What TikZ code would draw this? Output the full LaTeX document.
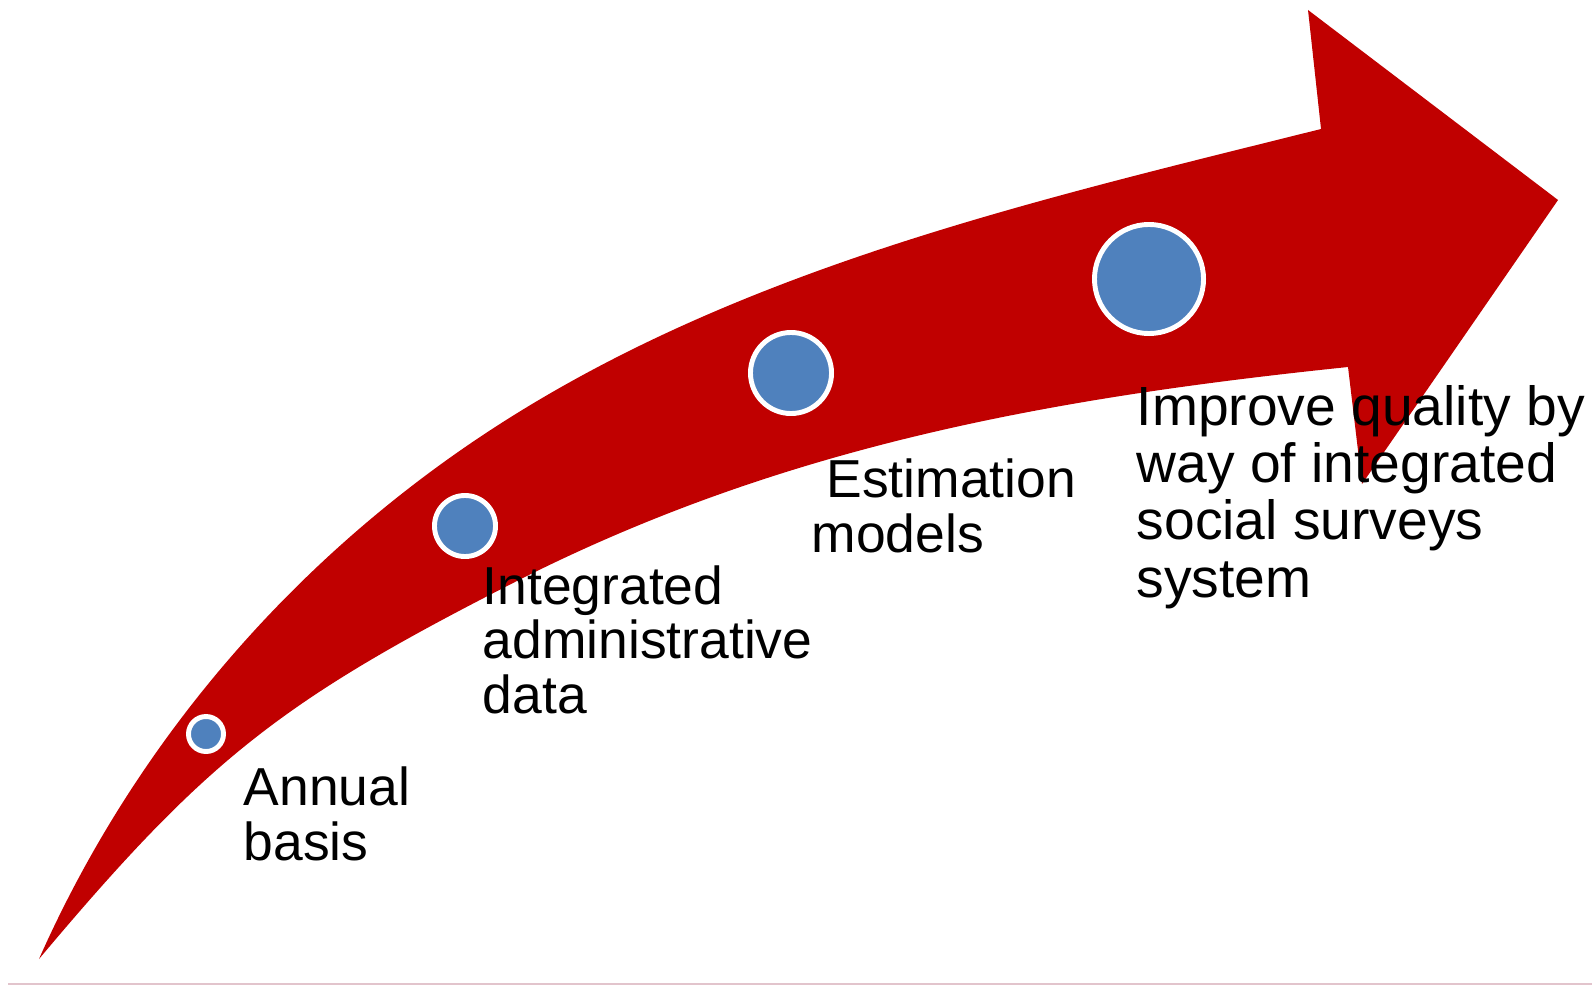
\documentclass[tikz,border=0pt]{standalone}
\usepackage{fontspec}
\setmainfont{Liberation Sans}
\definecolor{arrowred}{HTML}{C00000}
\definecolor{dotblue}{HTML}{4F81BD}
\definecolor{rulepink}{HTML}{E2C4CC}
\begin{document}
\begin{tikzpicture}[x=0.01cm,y=-0.01cm,
dot/.style={circle,fill=dotblue,draw=white,line width=1.4pt,inner sep=0pt},
label/.style={anchor=base west,align=left,inner sep=0pt,font=\fontsize{15.2pt}{15.45pt}\selectfont}]
  \useasboundingbox (0,0) rectangle (1595,985);
  % curved arrow
  \fill[arrowred] (39,959) .. controls (133,747) and (287,566) .. (480,437)
    .. controls (730,270) and (1029,202) .. (1321,129)
    -- (1308,10) -- (1558,200) -- (1362,484) -- (1348,367)
    .. controls (1050,398) and (782,446) .. (513,583)
    .. controls (281,701) and (206,760) .. cycle;
  \node[dot,minimum size=0.35cm] (annual) at (206,734) {};
  \node[dot,minimum size=0.61cm] (admin) at (465,526) {};
  \node[dot,minimum size=0.81cm] (models) at (791,373) {};
  \node[dot,minimum size=1.09cm] (quality) at (1149,279) {};
  % labels, anchored at the last baseline
  \node[label] (annualtxt) at (243,860) {Annual\\basis};
  \node[label] (admintxt) at (482,713) {Integrated\\administrative\\data};
  \node[label] (modelstxt) at (811,552) {\ Estimation\\models};
  \node[label,font=\fontsize{15.7pt}{16.3pt}\selectfont] (qualitytxt) at (1136,597) {Improve quality by\\way of integrated\\social surveys\\system};
  \draw[rulepink,line width=0.3pt] (8,984) -- (1592,984);
\end{tikzpicture}
\end{document}
